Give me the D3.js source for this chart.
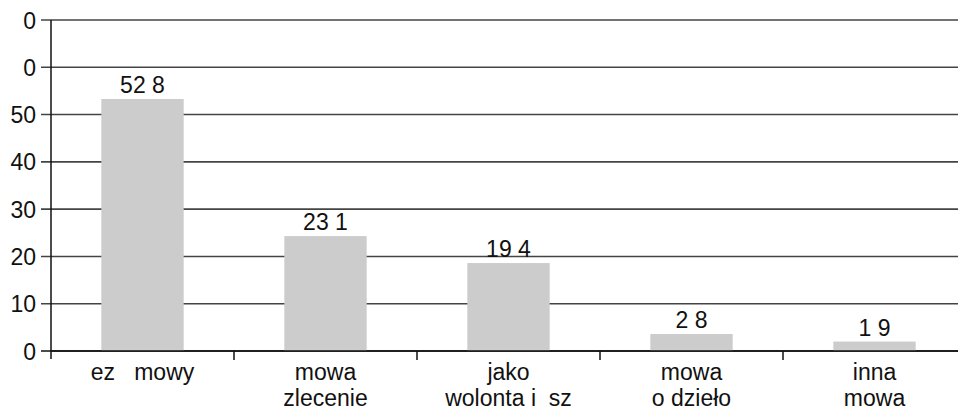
<!DOCTYPE html>
<html>
<head>
<meta charset="utf-8">
<script src="https://cdn.jsdelivr.net/npm/d3@7"></script>
<style>
body { margin: 0; background: #fff; }
text { font-family: "Liberation Sans", Arial, sans-serif; fill: #111; }
</style>
</head>
<body>
<div id="chart"></div>
<script>
// data
var categories = ["ez   mowy", "mowa|zlecenie", "jako|wolonta i  sz", "mowa|o dzieło", "inna|mowa"];
var values = [53.3, 24.3, 18.6, 3.6, 2.0];
var valueLabels = ["52 8", "23 1", "19 4", "2 8", "1 9"];
var yTicks = [0, 10, 20, 30, 40, 50, 60, 70];
var yTickLabels = ["0", "10", "20", "30", "40", "50", "0", "0"];

var chartW = 958, chartH = 412;
var plotLeft = 51, plotTop = 20, plotBottom = 351;
var fontSize = 23;

var svg = d3.select('#chart').append('svg')
    .attr('width', chartW)
    .attr('height', chartH);

var y = d3.scaleLinear().domain([0, 70]).range([plotBottom, plotTop]);
var x = d3.scaleBand().domain(categories)
    .range([plotLeft, 966])
    .paddingInner(0.55)
    .paddingOuter(0.275);
var step = x.step();

// gridlines + y ticks
svg.append('g').selectAll('line')
    .data(yTicks)
    .enter().append('line')
    .attr('x1', plotLeft - 10)
    .attr('x2', chartW)
    .attr('y1', function(d){ return y(d); })
    .attr('y2', function(d){ return y(d); })
    .attr('stroke', function(d){ return d == 0 ? '#111' : '#444'; })
    .attr('stroke-width', 1.6);

svg.append('g').selectAll('text')
    .data(yTicks)
    .enter().append('text')
    .attr('x', plotLeft - 15)
    .attr('y', function(d){ return y(d) + 8.5; })
    .attr('text-anchor', 'end')
    .attr('font-size', fontSize)
    .text(function(d, i){ return yTickLabels[i]; });

// bars
svg.append('g').selectAll('rect')
    .data(values)
    .enter().append('rect')
    .attr('x', function(d, i){ return x(categories[i]); })
    .attr('width', x.bandwidth())
    .attr('y', function(d){ return y(d); })
    .attr('height', function(d){ return y(0) - y(d); })
    .attr('fill', '#cccccc');

// value labels
svg.append('g').selectAll('text')
    .data(values)
    .enter().append('text')
    .attr('x', function(d, i){ return x(categories[i]) + x.bandwidth() / 2; })
    .attr('y', function(d){ return y(d) - 6; })
    .attr('text-anchor', 'middle')
    .attr('font-size', fontSize)
    .style('white-space', 'pre')
    .text(function(d, i){ return valueLabels[i]; });

// axes lines
svg.append('line')
    .attr('x1', plotLeft).attr('x2', plotLeft)
    .attr('y1', plotTop).attr('y2', plotBottom + 8)
    .attr('stroke', '#111').attr('stroke-width', 1.5);

svg.append('line')
    .attr('x1', plotLeft).attr('x2', chartW)
    .attr('y1', plotBottom).attr('y2', plotBottom)
    .attr('stroke', '#111').attr('stroke-width', 1.6);

// category separators
svg.append('g').selectAll('line')
    .data(categories.slice(1))
    .enter().append('line')
    .attr('x1', function(d){ return x(d) - x.paddingOuter() * step; })
    .attr('x2', function(d){ return x(d) - x.paddingOuter() * step; })
    .attr('y1', plotBottom)
    .attr('y2', plotBottom + 9)
    .attr('stroke', '#111').attr('stroke-width', 1.5);

// category labels
var catg = svg.append('g').selectAll('text')
    .data(categories)
    .enter().append('text')
    .attr('text-anchor', 'middle')
    .attr('font-size', fontSize)
    .style('white-space', 'pre')
    .attr('transform', function(d){ return 'translate(' + (x(d) + x.bandwidth() / 2) + ',' + (plotBottom + 29) + ')'; });

catg.selectAll('tspan')
    .data(function(d){ return d.split('|'); })
    .enter().append('tspan')
    .attr('x', 0)
    .attr('dy', function(d, i){ return i == 0 ? 0 : 26; })
    .text(function(d){ return d; });
</script>
</body>
</html>
